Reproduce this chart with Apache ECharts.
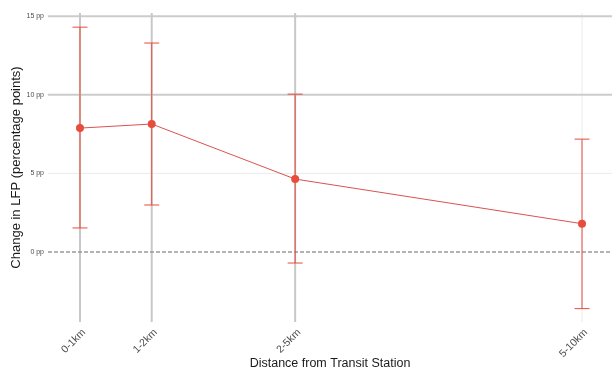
<!DOCTYPE html>
<html><head><meta charset="utf-8">
<script src="https://cdn.jsdelivr.net/npm/echarts@6/dist/echarts.min.js"></script>
<style>html,body{margin:0;padding:0;background:#fff}#c{width:612px;height:371px}</style>
</head><body><div id="c"></div>
<script>
const categories = ['0-1km', '1-2km', '2-5km', '5-10km'];
const xPositions = [0.5, 1.5, 3.5, 7.5];
const estimates = [7.88, 8.14, 4.64, 1.80];
const lowerCI = [1.53, 2.99, -0.70, -3.60];
const upperCI = [14.30, 13.29, 10.04, 7.18];
const yTicks = [0, 5, 10, 15];
const yTickLabels = ['0 pp', '5 pp', '10 pp', '15 pp'];
const darkXGrid = [0.5, 1.5, 3.5];
const lightXGrid = [7.5];
const darkYGrid = [10, 15];
const lightYGrid = [5];
const zeroLine = [0];
const xTitle = 'Distance from Transit Station';
const yTitle = 'Change in LFP (percentage points)';

const RED = '#E74C3C';
const FONT = 'Liberation Sans, Arial, sans-serif';
const lineData = xPositions.map((x, i) => [x, estimates[i]]);
const errData = xPositions.map((x, i) => [x, lowerCI[i], upperCI[i]]);

function gridSeries(values, vertical, color, width, dash, z) {
  return {
    type: 'custom', silent: true, z: z, clip: false,
    data: values.map(v => [v]),
    renderItem: (params, api) => {
      const cs = params.coordSys;
      const v = api.value(0);
      let shape;
      if (vertical) {
        const x = api.coord([v, 0])[0];
        shape = {x1: x, y1: cs.y, x2: x, y2: cs.y + cs.height};
      } else {
        const y = api.coord([1, v])[1];
        shape = {x1: cs.x, y1: y, x2: cs.x + cs.width, y2: y};
      }
      return {type: 'line', shape, style: {stroke: color, lineWidth: width, lineDash: dash || null}};
    }
  };
}

const chart = echarts.init(document.getElementById('c'), null, {renderer: 'canvas'});
chart.setOption({
  animation: false,
  backgroundColor: '#ffffff',
  grid: {left: 48, right: 0, top: 13, bottom: 49, outerBoundsMode: 'none'},
  graphic: [
    {type: 'text', x: 330, y: 364, style: {text: xTitle, fontSize: 12.5, fill: '#1a1a1a', font: '12.5px ' + FONT, align: 'center', verticalAlign: 'middle'}},
    {type: 'text', x: 16, y: 167.5, rotation: Math.PI / 2, style: {text: yTitle, fontSize: 13, fill: '#1a1a1a', font: '13px ' + FONT, align: 'center', verticalAlign: 'middle'}}
  ],
  xAxis: {
    type: 'value', min: 0.054, max: 7.918,
    axisLine: {show: false}, axisTick: {show: false}, splitLine: {show: false},
    axisLabel: {
      customValues: xPositions, rotate: 45, margin: 5, verticalAlign: 'top',
      fontSize: 10.5, color: '#4d4d4d', fontFamily: FONT,
      formatter: v => { const i = xPositions.indexOf(v); return i >= 0 ? categories[i] : ''; }
    }
  },
  yAxis: {
    type: 'value', min: -4.45, max: 15.2,
    axisLine: {show: false}, axisTick: {show: false}, splitLine: {show: false},
    axisLabel: {
      customValues: yTicks, margin: 4, fontSize: 7, color: '#4d4d4d', fontFamily: FONT,
      formatter: v => { const i = yTicks.indexOf(v); return i >= 0 ? yTickLabels[i] : ''; }
    }
  },
  series: [
    gridSeries(lightYGrid, false, '#ebebeb', 1, null, 1),
    gridSeries(lightXGrid, true, '#ebebeb', 1, null, 1),
    gridSeries(darkYGrid, false, '#cccccc', 2, null, 2),
    gridSeries(darkXGrid, true, '#c8c8c8', 2, null, 2),
    gridSeries(zeroLine, false, '#9a9a9a', 1.5, [4, 2], 2),
    {
      type: 'custom', z: 3, data: errData, silent: true,
      renderItem: (params, api) => {
        const x = api.value(0);
        const lo = api.coord([x, api.value(1)]);
        const hi = api.coord([x, api.value(2)]);
        const w = 7.5;
        const style = {stroke: RED, lineWidth: 1};
        return {type: 'group', children: [
          {type: 'line', shape: {x1: lo[0], y1: lo[1], x2: hi[0], y2: hi[1]}, style},
          {type: 'line', shape: {x1: lo[0] - w, y1: lo[1], x2: lo[0] + w, y2: lo[1]}, style},
          {type: 'line', shape: {x1: hi[0] - w, y1: hi[1], x2: hi[0] + w, y2: hi[1]}, style}
        ]};
      }
    },
    {
      type: 'line', z: 4, data: lineData, symbol: 'circle', symbolSize: 8,
      itemStyle: {color: RED}, lineStyle: {color: '#d9534f', width: 1}
    }
  ]
});
</script></body></html>
